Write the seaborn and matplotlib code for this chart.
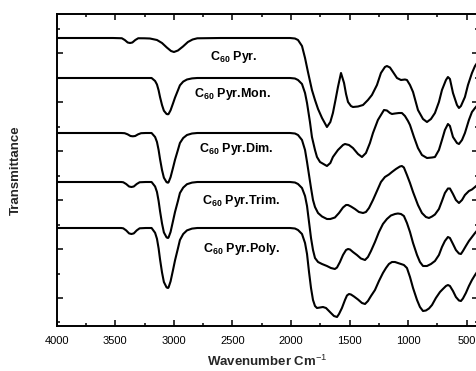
import matplotlib
matplotlib.use("Agg")
import matplotlib.pyplot as plt
from matplotlib.ticker import MultipleLocator, NullFormatter
import pandas as pd
import seaborn as sns

# ---- data (wavenumber in cm^-1, transmittance in arbitrary stacked units) ----
samples = ["Pyr.", "Pyr.Mon.", "Pyr.Dim.", "Pyr.Trim.", "Pyr.Poly."]

pyr_wn = [4000, 3520, 3444, 3419, 3394, 3374, 3354, 3329, 3304, 3250, 3204, 3144, 3101, 3060,
          3024, 2999, 2965, 2922, 2880, 2840, 2800, 2600, 2100, 2008, 1966, 1940, 1906, 1880,
          1855, 1821, 1795, 1769, 1735, 1693, 1664, 1642, 1620, 1599, 1573, 1547, 1530, 1513,
          1488, 1471, 1428, 1385, 1343, 1309, 1266, 1232, 1198, 1181, 1155, 1129, 1095, 1061,
          1027, 1010, 984, 958, 916, 873, 839, 805, 771, 737, 711, 677, 660, 643, 617, 583,
          566, 549, 515, 489, 455, 429, 400]
pyr_t = [288, 288, 287.75, 286, 283.5, 283, 283.5, 286, 287.75, 287.7, 287.5, 286, 283, 278.5,
         275, 274, 275.5, 279.5, 284, 286.5, 287.7, 288, 288, 288, 287.5, 286, 280, 268,
         254, 236, 226, 217, 208, 199, 204, 213, 226, 239, 253, 243, 232, 224,
         220, 219, 219.5, 221, 226, 231, 241, 253, 259, 260, 258.5, 254, 248, 246,
         246.5, 246, 241, 234, 216, 207, 204, 207, 213, 224, 236, 246, 249, 247, 233, 221,
         218, 220, 229, 241, 253, 260, 265]

mon_wn = [4000, 3250, 3190, 3160, 3144, 3130, 3118, 3101, 3085, 3062, 3050, 3045, 3028, 3007,
          2990, 2965, 2948, 2920, 2888, 2845, 2800, 2100, 2008, 1966, 1940, 1906, 1880, 1863,
          1838, 1821, 1795, 1778, 1752, 1693, 1664, 1642, 1599, 1556, 1539, 1505, 1471, 1428,
          1394, 1360, 1326, 1300, 1258, 1206, 1181, 1155, 1138, 1112, 1078, 1053, 1027, 1001,
          984, 950, 916, 882, 839, 796, 771, 737, 711, 686, 660, 643, 617, 583, 566, 540,
          515, 481, 455, 429, 400]
mon_t = [248, 248, 248, 245, 241.5, 235.7, 229, 221, 215.3, 212, 211.7, 212, 215.7, 222.6,
         228.4, 235.7, 240.7, 244.4, 246.5, 247.6, 248, 248, 248, 247.5, 246, 242, 233, 223,
         204, 189, 176, 169, 164, 160, 163, 169, 176, 181, 182, 181, 178, 172,
         169, 173, 183, 193, 206, 216, 215.5, 213, 212, 212.5, 213, 213, 210, 205,
         201, 189, 178, 171, 168, 168.5, 169, 176, 186, 196, 202, 200, 189, 183, 182, 186,
         193, 206, 214, 218, 222]

dim_wn = [4000, 3450, 3420, 3395, 3370, 3350, 3330, 3305, 3280, 3240, 3190, 3160, 3144, 3130,
          3118, 3101, 3085, 3062, 3050, 3045, 3028, 3007, 2990, 2965, 2948, 2920, 2888, 2845,
          2800, 2100, 2008, 1966, 1940, 1906, 1880, 1863, 1846, 1829, 1812, 1795, 1769, 1735,
          1693, 1664, 1625, 1590, 1556, 1530, 1513, 1488, 1454, 1420, 1385, 1360, 1334, 1300,
          1266, 1232, 1198, 1164, 1138, 1104, 1070, 1053, 1036, 1010, 984, 958, 916, 882,
          848, 822, 796, 771, 737, 711, 686, 660, 643, 617, 592, 566, 540, 515, 481, 455,
          429, 400]
dim_t = [193, 193, 192.8, 191.7, 190, 189.7, 190, 191.7, 192.8, 193, 193, 189, 184, 176,
         167, 156, 148.3, 143.8, 143.3, 143.8, 148.8, 158.2, 166.2, 176.1, 183, 188, 191, 192.5,
         193, 193, 193, 192.5, 191, 186, 176, 164, 151, 138, 126, 119, 113, 109.5,
         107, 107, 108.5, 113, 118.5, 121, 121, 119.5, 117, 114, 113, 114, 118, 126,
         135, 144, 149, 151.5, 154, 157, 159.5, 160, 158.5, 151, 143, 134, 121, 113,
         109, 108, 109.5, 111.5, 117, 125, 133, 137.5, 137.5, 132, 126, 123, 126, 131, 135, 136.5,
         139, 142]

trim_wn = [4000, 3450, 3432, 3407, 3382, 3362, 3342, 3317, 3292, 3240, 3190, 3160, 3144, 3130,
           3118, 3101, 3085, 3062, 3050, 3045, 3028, 3007, 2990, 2965, 2948, 2920, 2888, 2845,
           2800, 2100, 2008, 1966, 1940, 1906, 1880, 1863, 1846, 1829, 1812, 1795, 1769, 1735,
           1693, 1659, 1625, 1607, 1582, 1556, 1530, 1513, 1496, 1471, 1437, 1403, 1368, 1343,
           1317, 1283, 1249, 1215, 1181, 1147, 1112, 1087, 1061, 1036, 1010, 984, 958, 924,
           899, 873, 839, 805, 771, 737, 711, 686, 660, 643, 617, 592, 566, 549, 532, 507,
           481, 455, 429, 400]
trim_t = [144, 144, 143.75, 142, 139.5, 139, 139.5, 142, 143.75, 144, 144, 139.5, 134, 125,
          115, 102.6, 93.6, 88.6, 88, 88.6, 94, 105, 114, 125, 133, 138.4, 141.8, 143.4,
          144, 144, 144, 143.5, 142, 138, 130, 120, 104, 88, 76, 68, 64, 62,
          60, 58, 57, 58.5, 64, 71, 76, 77, 76.5, 74, 71, 67.5, 66, 69,
          75, 84, 94, 102, 107, 110.5, 112, 112.5, 112, 110, 103, 94, 83, 71,
          64, 60, 60, 62, 65, 71, 79, 85, 89, 88, 82, 76, 72.5, 72, 75, 80,
          85, 89, 93, 97]

poly_wn = [4000, 3450, 3432, 3407, 3382, 3362, 3342, 3317, 3292, 3240, 3190, 3160, 3144, 3130,
           3118, 3101, 3085, 3062, 3050, 3045, 3028, 3007, 2990, 2965, 2948, 2920, 2888, 2845,
           2800, 2100, 2008, 1966, 1940, 1906, 1880, 1863, 1846, 1829, 1812, 1795, 1778, 1752,
           1727, 1701, 1684, 1659, 1633, 1607, 1590, 1565, 1539, 1522, 1505, 1488, 1462, 1428,
           1394, 1368, 1343, 1317, 1283, 1249, 1215, 1189, 1164, 1138, 1112, 1087, 1061, 1036,
           1010, 984, 958, 924, 899, 873, 848, 822, 796, 763, 728, 703, 677, 660, 643, 617,
           592, 566, 549, 532, 507, 481, 455, 429, 400]
poly_t = [98, 98, 97.7, 95.6, 92.6, 92, 92.6, 95.6, 97.7, 98, 98, 93.2, 87.2, 77.6,
          66.8, 53.6, 44, 38.6, 38, 38.6, 44.6, 56, 65.6, 77.6, 86, 92, 95.6, 97.4,
          98, 98, 98, 97.5, 96, 92, 83, 72, 54, 38, 26, 20, 18, 18.5,
          19, 18, 16, 13, 10, 9, 12, 18, 26, 30.5, 32, 31.5, 29.5, 26.5,
          23, 22, 25, 30, 36, 45, 53, 58, 62, 64, 64, 63, 62, 61,
          58, 49, 38, 26, 19, 15, 15.5, 17.5, 21, 28, 34, 37, 40, 41, 40, 35,
          29, 25.5, 25, 27.5, 33, 40, 46, 51, 56]

# label anchor (wavenumber, transmittance) for each curve's name
label_wn = [2691, 2825, 2785, 2762, 2754]
label_t = [266, 229, 174, 122, 74]

x_major_ticks = [4000, 3500, 3000, 2500, 2000, 1500, 1000, 500]
y_major_ticks = [28, 77, 126, 175, 224, 273]
y_minor_ticks = [4, 52.5, 101.5, 150.5, 199.5, 248.5, 297.5]

# ---- build long table ----
series = [(pyr_wn, pyr_t), (mon_wn, mon_t), (dim_wn, dim_t), (trim_wn, trim_t), (poly_wn, poly_t)]
frames = []
for name, (w, t) in zip(samples, series):
    frames.append(pd.DataFrame({"wn": w, "T": t, "sample": name}))
df = pd.concat(frames, ignore_index=True)

# ---- style ----
sns.set_theme(style="ticks")
plt.rcParams["font.family"] = ["Liberation Sans", "DejaVu Sans"]
plt.rcParams["mathtext.fontset"] = "custom"
plt.rcParams["mathtext.rm"] = "Liberation Sans"
plt.rcParams["mathtext.bf"] = "Liberation Sans:bold"
plt.rcParams["mathtext.it"] = "Liberation Sans:italic"

fig = plt.figure(figsize=(4.76, 3.71), dpi=100)
ax = fig.add_axes([56.7 / 476, 45 / 371, 421.7 / 476, 312 / 371])

sns.lineplot(data=df, x="wn", y="T", units="sample", estimator=None, sort=False,
             color="black", linewidth=1.5, ax=ax, legend=False)

ax.set_xlim(4000, 400)
ax.set_ylim(0, 312)

ax.set_xticks(x_major_ticks)
ax.xaxis.set_minor_locator(MultipleLocator(250))
ax.set_yticks(y_major_ticks)
ax.set_yticks(y_minor_ticks, minor=True)
ax.yaxis.set_major_formatter(NullFormatter())

ax.tick_params(which="both", direction="in", top=True, right=True, width=1.1, color="black")
ax.tick_params(which="major", length=4.2)
ax.tick_params(which="minor", length=2.2)
ax.tick_params(axis="x", labelsize=8, pad=7, colors="black")
for s in ax.spines.values():
    s.set_linewidth(1.4)
    s.set_color("black")

ax.set_xlabel(r"Wavenumber Cm$^{-1}$", fontsize=9.5, fontweight="bold")
ax.set_ylabel("Transmittance", fontsize=9.5, fontweight="bold")
ax.xaxis.set_label_coords(0.5, -0.09)
ax.yaxis.set_label_coords(-0.082, 0.5)

for name, lw, lt in zip(samples, label_wn, label_t):
    ax.text(lw, lt, r"C$_{\mathbf{60}}$ " + name, fontsize=9, fontweight="bold",
            ha="left", va="baseline", color="black")

fig.savefig("out.png", dpi=100)
